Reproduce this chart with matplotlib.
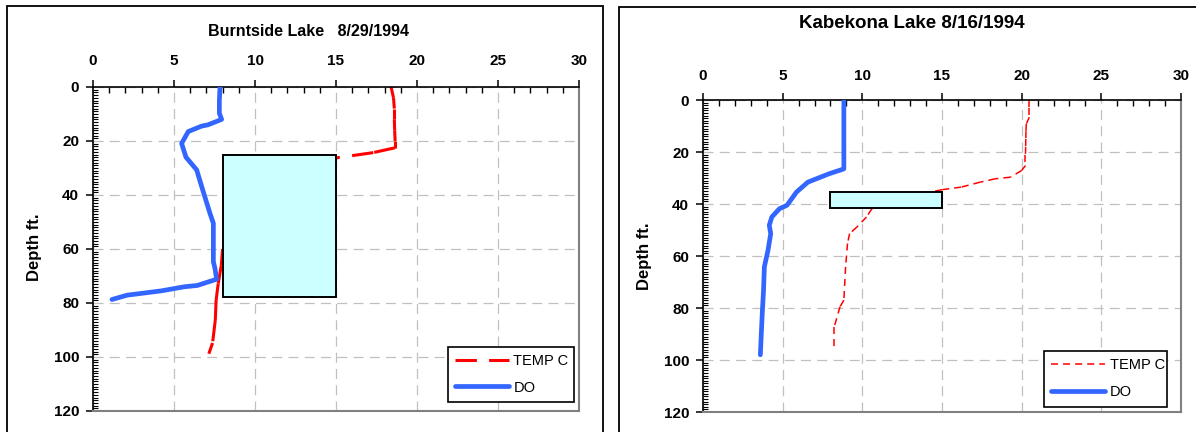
import matplotlib
matplotlib.use('Agg')
import matplotlib.pyplot as plt
from matplotlib.lines import Line2D
from matplotlib.patches import Rectangle
from matplotlib.ticker import MultipleLocator

plt.rcParams['font.family'] = ['Liberation Sans', 'DejaVu Sans']
plt.rcParams['font.weight'] = 'bold'

# ---------------- data ----------------
# Burntside Lake 8/29/1994
burnt_title = "Burntside Lake   8/29/1994"
burnt_do_x = [7.84, 7.80, 7.80, 7.94, 7.10, 6.70, 5.88, 5.47, 5.74, 6.40, 6.71, 7.22,
              7.43, 7.43, 7.53, 7.63, 6.44, 5.62, 4.22, 2.11, 1.17]
burnt_do_d = [0, 5, 9.7, 12, 14, 14.5, 16.5, 20.9, 26, 30.7, 36.9, 46.8,
              50.5, 64.7, 67.2, 71.2, 73.5, 74, 75.5, 77.1, 78.7]
burnt_temp_x = [18.4, 18.55, 18.6, 18.6, 18.62, 18.65, 18.65, 17.3, 15.2, 13.0, 10.5,
                9.0, 8.3, 8.0, 7.92, 7.73, 7.60, 7.55, 7.38, 7.15]
burnt_temp_d = [0, 4, 8, 12, 16, 20, 22.5, 24.3, 26.1, 28, 32,
                40, 50, 60, 66, 72.8, 78.9, 86.3, 94.8, 98.8]
burnt_box = [8, 15, 25.3, 77.7]   # x0, x1, depth top, depth bottom

# Kabekona Lake 8/16/1994
kabe_title = "Kabekona Lake 8/16/1994"
kabe_do_x = [8.84, 8.84, 7.90, 6.58, 5.87, 5.27, 4.80, 4.32, 4.16, 4.25, 4.08, 3.85,
             3.80, 3.73, 3.66, 3.60]
kabe_do_d = [0, 26.5, 28.4, 31.6, 35.4, 40.5, 41.8, 45, 48.2, 51.4, 57.8, 64.2,
             73.1, 80.8, 89.8, 98]
kabe_temp_x = [20.48, 20.48, 20.48, 20.29, 20.27, 20.26, 20.25, 20.24, 20.24, 20.0, 19.29,
               18.34, 17.4, 16.2, 15.0, 13.0, 11.5, 10.6, 10.26, 9.67, 9.2, 9.07, 8.95,
               8.84, 8.6, 8.24, 8.24]
kabe_temp_d = [0, 3, 6.6, 9.2, 12, 15, 18, 21, 25.2, 27.1, 29.7,
               30.3, 31.6, 33.5, 34.5, 37, 40, 41.8, 45, 48.8, 51.4, 55.2, 64.2,
               77, 79.5, 87.2, 95.5]
kabe_box = [8, 15, 35.3, 41.5]

legend_labels = ["TEMP C", "DO"]
x_ticks = [0, 5, 10, 15, 20, 25, 30]
y_ticks = [0, 20, 40, 60, 80, 100, 120]

RED = '#FF0000'
BLUE = '#3366FF'
BOXC = '#CCFFFF'

W, H = 1196, 432
fig = plt.figure(figsize=(W / 100, H / 100), dpi=100)

# panel frames
fig.add_artist(Rectangle((7 / W, -0.1), 596 / W, (H - 6) / H + 0.1, transform=fig.transFigure,
                         fill=False, edgecolor='black', lw=1.3, clip_on=False))
fig.add_artist(Rectangle((619 / W, -0.1), 1.0, (H - 7) / H + 0.1, transform=fig.transFigure,
                         fill=False, edgecolor='black', lw=1.3, clip_on=False))


def setup(ax, fs, xpad, ypad):
    ax.set_xlim(0, 30)
    ax.set_ylim(120, 0)
    ax.xaxis.tick_top()
    ax.set_xticks(x_ticks)
    ax.set_yticks(y_ticks)
    ax.xaxis.set_minor_locator(MultipleLocator(1))
    ax.yaxis.set_minor_locator(MultipleLocator(1))
    ax.tick_params(axis='x', which='major', direction='out', length=5, width=1.1,
                   pad=xpad, labelsize=fs, top=True, bottom=False)
    ax.tick_params(axis='x', which='minor', direction='in', length=4, width=1.0,
                   top=True, bottom=False)
    ax.tick_params(axis='y', which='major', direction='out', length=5, width=1.1,
                   pad=ypad, labelsize=fs, left=True, right=False)
    ax.tick_params(axis='y', which='minor', direction='in', length=3.5, width=0.8,
                   left=True, right=False)
    for s in ('left', 'top'):
        ax.spines[s].set_color('black')
        ax.spines[s].set_linewidth(1.2)
    for s in ('right', 'bottom'):
        ax.spines[s].set_color('#808080')
        ax.spines[s].set_linewidth(1.5)
    ax.grid(True, which='major', color='#C0C0C0', linestyle=(0, (8, 5)), linewidth=0.9)
    ax.set_axisbelow(True)


def seg_dashed(ax, xs, ds, lw, dashes):
    # dash pattern restarts on every segment (as in the original spreadsheet chart)
    for i in range(len(xs) - 1):
        ax.plot(xs[i:i + 2], ds[i:i + 2], color=RED, lw=lw, dashes=dashes,
                solid_capstyle='butt', dash_capstyle='butt', zorder=2)


def draw(ax, do_x, do_d, t_x, t_d, box, t_lw, t_dash, do_lw):
    seg_dashed(ax, t_x, t_d, t_lw, t_dash)
    ax.add_patch(Rectangle((box[0], box[2]), box[1] - box[0], box[3] - box[2],
                           facecolor=BOXC, edgecolor='black', lw=1.4, zorder=3))
    ax.plot(do_x, do_d, color=BLUE, lw=do_lw, solid_capstyle='round',
            solid_joinstyle='round', zorder=4)
    handles = [Line2D([0], [0], color=RED, lw=t_lw, dashes=t_dash),
               Line2D([0], [0], color=BLUE, lw=do_lw, solid_capstyle='round')]
    return handles


LEG_FS = 10.5

# ---- left chart ----
axL = fig.add_axes([93 / W, (H - 411) / H, 486 / W, 324 / H])
setup(axL, 11, 9, 5)
hL = draw(axL, burnt_do_x, burnt_do_d, burnt_temp_x, burnt_temp_d, burnt_box,
          2.2, (7, 4), 3.4)
legL = axL.legend(hL, legend_labels, loc='upper left', bbox_to_anchor=(0.730, 0.012, 0.259, 0.186),
                  mode='expand', borderaxespad=0, fancybox=False, edgecolor='black',
                  framealpha=1, handlelength=3.7, handletextpad=0.3, labelspacing=0.85,
                  borderpad=0.5, prop={'size': LEG_FS, 'weight': 'normal'})
legL.get_frame().set_linewidth(1.2)
legL.set_zorder(10)

fig.text(308 / W, 1 - 31 / H, burnt_title, ha='center', va='center', fontsize=11.5,
         fontweight='bold')
fig.text(34 / W, 1 - 247 / H, "Depth ft.", rotation=90, ha='center', va='center',
         fontsize=12, fontweight='bold')

# ---- right chart ----
axR = fig.add_axes([703 / W, (H - 412) / H, 478 / W, 312 / H])
setup(axR, 11, 7, 5)
hR = draw(axR, kabe_do_x, kabe_do_d, kabe_temp_x, kabe_temp_d, kabe_box,
          1.1, (4.6, 3.3), 3.4)
legR = axR.legend(hR, legend_labels, loc='upper left', bbox_to_anchor=(0.7134, 0.003, 0.2573, 0.1925),
                  mode='expand', borderaxespad=0, fancybox=False, edgecolor='black',
                  framealpha=1, handlelength=3.7, handletextpad=0.3, labelspacing=0.9,
                  borderpad=0.5, prop={'size': LEG_FS, 'weight': 'normal'})
legR.get_frame().set_linewidth(1.2)
legR.set_zorder(10)

fig.text(912 / W, 1 - 24 / H, kabe_title, ha='center', va='center', fontsize=13.5,
         fontweight='bold')
fig.text(645 / W, 1 - 256 / H, "Depth ft.", rotation=90, ha='center', va='center',
         fontsize=12, fontweight='bold')

fig.savefig('out.png', dpi=100)
